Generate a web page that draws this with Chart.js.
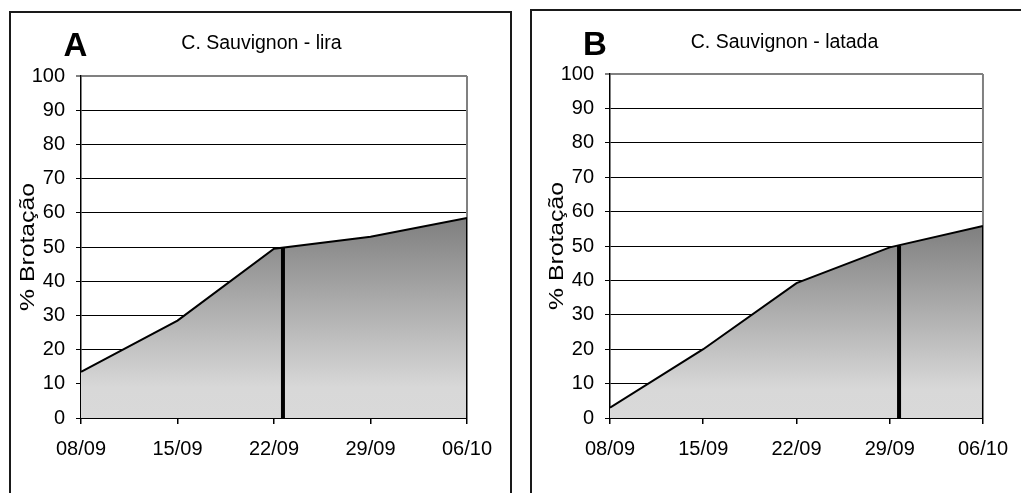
<!DOCTYPE html>
<html>
<head>
<meta charset="utf-8">
<script src="https://cdn.jsdelivr.net/npm/chart.js@4.4.1/dist/chart.umd.min.js"></script>
<style>
  html, body { margin: 0; padding: 0; background: #fff; overflow: hidden; width: 1021px; height: 493px; }
  canvas { position: absolute; top: 0; }
  #cA { left: 0; }
  #cB { left: 520px; }
  .frame { position: absolute; box-sizing: border-box; border: 2px solid #1a1a1a; pointer-events: none; }
  #fA { left: 9px; top: 11px; width: 503px; height: 600px; }
  #fB { left: 530px; top: 9px; width: 600px; height: 600px; }
</style>
</head>
<body>
<canvas id="cA" width="520" height="493"></canvas>
<canvas id="cB" width="501" height="493"></canvas>
<div class="frame" id="fA"></div>
<div class="frame" id="fB"></div>
<script>
// ---- data ----
const dateLabels = ['08/09', '15/09', '22/09', '29/09', '06/10'];
const dayOffsets = [0, 7, 14, 21, 28];
const yTicks = [0, 10, 20, 30, 40, 50, 60, 70, 80, 90, 100];
const liraValues = [13.5, 28.5, 49.5, 53, 58.5];
const latadaValues = [3, 20, 39.2, 49.6, 55.8];
const liraMarkerDay = 14.65;
const liraMarkerTop = 49.8;
const latadaMarkerDay = 21.7;
const latadaMarkerTop = 50.1;
const titleLira = 'C. Sauvignon - lira';
const titleLatada = 'C. Sauvignon - latada';
const yAxisTitle = '% Brotação';

const FONT = '"Liberation Sans", Arial, sans-serif';

function makeChart(id, cfg) {
  const series = cfg.values;
  const maxVal = Math.max(...series);
  const textPlugin = {
    id: 'texts' + id,
    beforeDatasetsDraw(chart) {
      const ca = chart.chartArea, ctx = chart.ctx;
      ctx.save();
      ctx.strokeStyle = '#808080';
      ctx.lineWidth = 2;
      ctx.beginPath();
      ctx.moveTo(ca.right, ca.top);
      ctx.lineTo(ca.right, ca.bottom);
      ctx.stroke();
      ctx.restore();
    },
    afterDraw(chart) {
      const ctx = chart.ctx;
      const ca = chart.chartArea;
      ctx.save();
      ctx.fillStyle = '#000';
      ctx.textAlign = 'center';
      ctx.textBaseline = 'alphabetic';
      ctx.font = 'bold 33px ' + FONT;
      ctx.fillText(cfg.letter, cfg.letterX, cfg.letterY);
      ctx.font = '19.5px ' + FONT;
      ctx.fillText(cfg.title, cfg.titleX, cfg.titleY);
      // rotated axis title
      ctx.translate(cfg.yTitleX, (ca.top + ca.bottom) / 2);
      ctx.rotate(-Math.PI / 2);
      ctx.scale(1.27, 1);
      ctx.textBaseline = 'middle';
      ctx.font = '19.5px ' + FONT;
      ctx.fillText(yAxisTitle, 0, 0);
      ctx.restore();
    }
  };
  return new Chart(document.getElementById(id), {
    type: 'line',
    data: {
      datasets: [
        {
          data: dayOffsets.map((d, i) => ({ x: d, y: series[i] })),
          borderColor: '#000',
          borderWidth: 2,
          pointRadius: 0,
          tension: 0,
          fill: 'origin',
          backgroundColor: (c) => {
            const chart = c.chart;
            const ca = chart.chartArea;
            if (!ca) return '#bbbbbb';
            const top = chart.scales.y.getPixelForValue(maxVal);
            const g = chart.ctx.createLinearGradient(0, top, 0, ca.bottom);
            g.addColorStop(0, '#7f7f7f');
            g.addColorStop(0.85, '#d8d8d8');
            g.addColorStop(1, '#d9d9d9');
            return g;
          },
          order: 3
        },
        {
          data: [{ x: dayOffsets[dayOffsets.length - 1], y: 0 }, { x: dayOffsets[dayOffsets.length - 1], y: series[series.length - 1] }],
          borderColor: '#000',
          borderWidth: 2,
          pointRadius: 0,
          fill: false,
          order: 2
        },
        {
          data: [{ x: cfg.markerDay, y: 0 }, { x: cfg.markerDay, y: cfg.markerTop }],
          borderColor: '#000',
          borderWidth: 4,
          pointRadius: 0,
          fill: false,
          order: 1
        }
      ]
    },
    options: {
      responsive: false,
      animation: false,
      devicePixelRatio: 1,
      layout: { padding: { top: cfg.padTop, right: cfg.padRight, left: 0, bottom: 0 } },
      plugins: { legend: { display: false }, tooltip: { enabled: false }, title: { display: false } },
      scales: {
        x: {
          type: 'linear',
          min: dayOffsets[0],
          max: dayOffsets[dayOffsets.length - 1],
          afterFit: (s) => { s.height = 75; },
          afterBuildTicks: (s) => { s.ticks = dayOffsets.map(v => ({ value: v })); },
          ticks: {
            autoSkip: false,
            maxRotation: 0,
            padding: 13,
            color: '#000',
            font: { family: FONT, size: 20 },
            callback: (v) => dateLabels[dayOffsets.indexOf(v)]
          },
          grid: { drawOnChartArea: false, drawTicks: true, tickLength: 6, color: '#000', lineWidth: 1.5 },
          border: { color: '#000', width: 2 }
        },
        y: {
          min: 0,
          max: 100,
          afterFit: (s) => { s.width = cfg.yWidth; },
          afterBuildTicks: (s) => { s.ticks = yTicks.map(v => ({ value: v })); },
          ticks: {
            padding: 11,
            color: '#000',
            font: { family: FONT, size: 20 }
          },
          grid: {
            drawTicks: true,
            tickLength: 5,
            color: (c) => (c.tick && c.tick.value === 100 ? '#808080' : '#000'),
            lineWidth: (c) => (c.tick && c.tick.value === 100 ? 2 : 1)
          },
          border: { color: '#000', width: 1.5 }
        }
      }
    },
    plugins: [textPlugin]
  });
}

makeChart('cA', {
  values: liraValues, markerDay: liraMarkerDay, markerTop: liraMarkerTop,
  letter: 'A', letterX: 75.5, letterY: 56,
  title: titleLira, titleX: 261.5, titleY: 49,
  padTop: 76, padRight: 53, yWidth: 81, yTitleX: 28.5
});
makeChart('cB', {
  values: latadaValues, markerDay: latadaMarkerDay, markerTop: latadaMarkerTop,
  letter: 'B', letterX: 75, letterY: 55,
  title: titleLatada, titleX: 264.5, titleY: 48,
  padTop: 74, padRight: 31, yWidth: 90, yTitleX: 38
});
</script>
</body>
</html>
